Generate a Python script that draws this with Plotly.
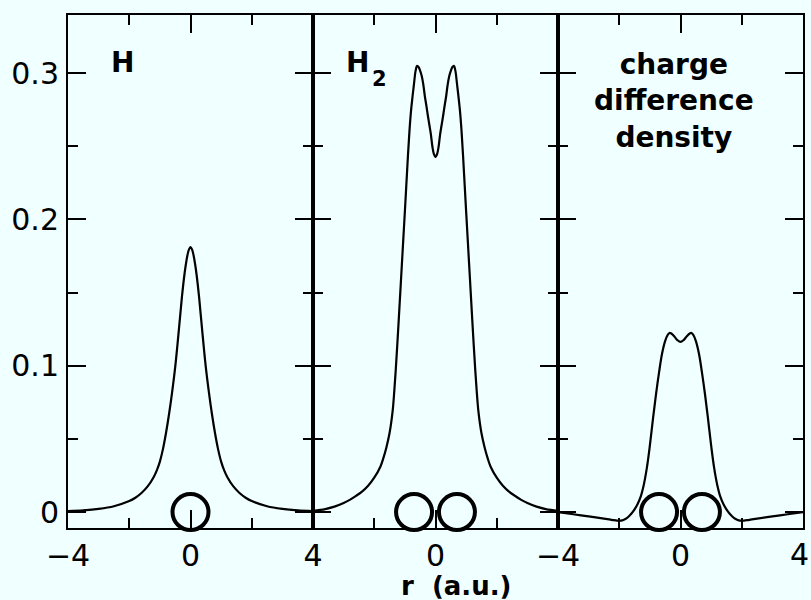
import plotly.graph_objects as go

# ---------------- data ----------------
# Panel 1: H atom density (r >= 0 side read; the curve is drawn on both sides)
h_r_half = [0.0, 0.05, 0.1, 0.15, 0.2, 0.28, 0.4, 0.5, 0.6, 0.7, 0.8, 0.9, 1.0, 1.1, 1.2, 1.4, 1.6, 1.8, 2.0, 2.5, 3.0, 3.5, 4.0]
h_rho_half = [0.181, 0.1795, 0.1755, 0.1695, 0.162, 0.147, 0.120, 0.099, 0.082, 0.067, 0.054, 0.043, 0.0345, 0.0285, 0.024,
              0.0175, 0.013, 0.0098, 0.0075, 0.0040, 0.0022, 0.0012, 0.0007]

# Panel 2: H2 molecule density
h2_r_half = [0.0, 0.05, 0.1, 0.15, 0.2, 0.25, 0.3, 0.35, 0.4, 0.45, 0.5, 0.55, 0.6, 0.65, 0.7, 0.75, 0.8, 0.85, 0.9, 0.95,
             1.0, 1.05, 1.1, 1.15, 1.2, 1.25, 1.3, 1.35, 1.4, 1.5, 1.6, 1.7, 1.8, 2.0, 2.2, 2.4, 2.6, 2.8, 3.0, 3.3, 3.6, 4.0]
h2_rho_half = [0.2425, 0.2445, 0.2495, 0.258, 0.2645, 0.271, 0.278, 0.2845, 0.2925, 0.298, 0.3015, 0.304, 0.305, 0.3015,
               0.293, 0.284, 0.274, 0.2605, 0.2435, 0.2245, 0.2055, 0.187, 0.1685, 0.150, 0.1315, 0.1135, 0.0965, 0.0815,
               0.069, 0.054, 0.0445, 0.037, 0.031, 0.0235, 0.018, 0.014, 0.011, 0.0083, 0.0062, 0.0037, 0.002, 0.0008]

# Panel 3: charge difference density
cd_r_half = [0.0, 0.1, 0.2, 0.3, 0.36, 0.42, 0.5, 0.6, 0.7, 0.8, 0.9, 1.0, 1.1, 1.2, 1.3, 1.4, 1.5, 1.6, 1.7, 1.8, 1.9,
             2.0, 2.25, 2.5, 3.0, 3.5, 4.0]
cd_rho_half = [0.1163, 0.1175, 0.120, 0.122, 0.1224, 0.121, 0.117, 0.1085, 0.0955, 0.0805, 0.0635, 0.0455, 0.030, 0.0185,
               0.0105, 0.0055, 0.0018, -0.001, -0.0032, -0.0048, -0.0057, -0.006, -0.0053, -0.0045, -0.003, -0.0015, 0.0]

# nuclei positions (a.u.) and their height on the plot
nuc_h = [0.0]
nuc_h2 = [-0.7, 0.7]
nuc_y1 = [0.0]
nuc_y2 = [0.0, 0.0]

x_ticks = [-4, 0, 4]
x_text_left = ["\u22124", "0", "4"]
x_text_mid = ["", "0", ""]
x_text_right = ["\u22124", "0", ""]   # the last "4" is drawn as a right-aligned label so it stays on the page
last_label = "4"


def both_sides(r_half, v_half):
    """Mirror the read half-profile to the negative side."""
    r = [-x for x in reversed(r_half[1:])] + list(r_half)
    v = list(reversed(v_half[1:])) + list(v_half)
    return r, v


# ---------------- figure ----------------
BG = "#F0FFFF"
fig = go.Figure()

curves = [(h_r_half, h_rho_half, "x", "y"), (h2_r_half, h2_rho_half, "x2", "y2"),
          (cd_r_half, cd_rho_half, "x3", "y3")]
for rh, vh, xa, ya in curves:
    r, v = both_sides(rh, vh)
    fig.add_trace(go.Scatter(x=r, y=v, mode="lines", xaxis=xa, yaxis=ya,
                             line=dict(color="black", width=2.2, shape="spline", smoothing=1.0),
                             showlegend=False, hoverinfo="skip"))

marker = dict(symbol="circle-open", size=36, color="black", line=dict(width=4, color="black"))
for nx, ny, xa, ya in [(nuc_h, nuc_y1, "x", "y"), (nuc_h2, nuc_y2, "x2", "y2"), (nuc_h2, nuc_y2, "x3", "y3")]:
    fig.add_trace(go.Scatter(x=nx, y=ny, mode="markers", xaxis=xa, yaxis=ya, marker=marker,
                             cliponaxis=False, showlegend=False, hoverinfo="skip"))

tickfont = dict(family="DejaVu Sans", size=30, color="black")


def xaxis(domain, ticktext, anchor):
    return dict(domain=domain, range=[-4, 4], anchor=anchor, automargin=False,
                ticklabeloverflow="allow",
                tickmode="array", tickvals=x_ticks, ticktext=ticktext,
                ticks="inside", ticklen=18, tickwidth=2, tickcolor="black",
                minor=dict(tickmode="linear", tick0=0, dtick=2, ticks="inside", ticklen=10,
                           tickwidth=2, tickcolor="black", showgrid=False),
                showline=True, linecolor="black", linewidth=2, mirror="ticks",
                showgrid=False, zeroline=False, tickfont=tickfont, ticklabelstandoff=0)


def yaxis(anchor, labels):
    return dict(range=[-0.0109, 0.3397], anchor=anchor, automargin=False,
                ticklabeloverflow="allow",
                tickmode="linear", tick0=0, dtick=0.1,
                ticks="inside", ticklen=18, tickwidth=2, tickcolor="black",
                minor=dict(tickmode="linear", tick0=0, dtick=0.05, ticks="inside", ticklen=10,
                           tickwidth=2, tickcolor="black", showgrid=False),
                showline=True, linecolor="black", linewidth=2, mirror="ticks",
                showgrid=False, zeroline=False, showticklabels=labels, tickfont=tickfont,
                ticklabelstandoff=1)


fig.update_layout(
    width=811, height=600,
    margin=dict(l=68, r=8, t=15, b=72, pad=0, autoexpand=False),
    paper_bgcolor=BG, plot_bgcolor=BG,
    xaxis=xaxis([0, 1/3], x_text_left, "y"),
    xaxis2=xaxis([1/3, 2/3], x_text_mid, "y2"),
    xaxis3=xaxis([2/3, 1], x_text_right, "y3"),
    yaxis=yaxis("x", True),
    yaxis2=yaxis("x2", False),
    yaxis3=yaxis("x3", False),
)

bold = dict(family="DejaVu Sans", color="black")
ann = [
    dict(text="<b>H</b>", x=0.0735, y=0.9074, xanchor="center", font=dict(size=28, **bold)),
    dict(text="<b>H</b>", x=0.3932, y=0.9074, xanchor="center", font=dict(size=28, **bold)),
    dict(text="<b>2</b>", x=0.4232, y=0.8762, xanchor="center", font=dict(size=21, **bold)),
    dict(text="<b>charge<br>difference<br>density</b>", x=0.825, y=0.833, xanchor="center",
         font=dict(size=28, **bold)),
    dict(text="<b>r\u00a0\u00a0(a.u.)</b>", x=0.5279, y=-0.114, xanchor="center", font=dict(size=26, **bold)),
    dict(text=last_label, x=1.0105, y=-0.0526, xanchor="right", font=tickfont),
]
for a in ann:
    fig.add_annotation(xref="paper", yref="paper", yanchor="middle", showarrow=False, **a)

fig.write_html("out.html")
